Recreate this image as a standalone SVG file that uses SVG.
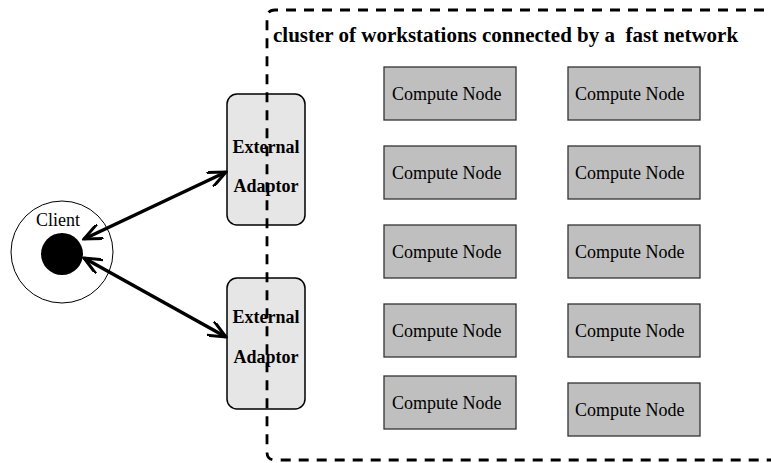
<svg xmlns="http://www.w3.org/2000/svg" width="771" height="463" viewBox="0 0 771 463">
<defs>
<style>
.cn rect{fill:#bfbfbf;stroke:#333;stroke-width:1.3}
.cn text{font-family:"Liberation Serif",serif;font-size:18px;fill:#000}
.ea rect{fill:#e6e6e6;stroke:#000;stroke-width:1.5}
.ea text{font-family:"Liberation Serif",serif;font-size:18px;font-weight:bold;fill:#000;text-anchor:middle}
.conn line{stroke:#000;stroke-width:3.5;fill:none}
</style>
<marker id="ah" viewBox="0 0 20 16" refX="18" refY="8" markerWidth="20" markerHeight="16" markerUnits="userSpaceOnUse" orient="auto-start-reverse">
<path d="M0,0 L18,8 L0,16" fill="none" stroke="#000" stroke-width="3"/>
</marker>
</defs>
<rect width="771" height="463" fill="#fff"/>
<g id="client">
<circle cx="62" cy="252" r="51" fill="#fff" stroke="#000" stroke-width="1"/>
<circle cx="62" cy="254" r="21" fill="#000"/>
<text x="58" y="226" font-family="Liberation Serif,serif" font-size="18" text-anchor="middle">Client</text>
</g>
<g id="adaptor1" class="ea">
<rect x="227" y="94" width="78" height="131" rx="10"/>
<text x="266" y="153">External</text>
<text x="266" y="192">Adaptor</text>
</g>
<g id="adaptor2" class="ea">
<rect x="227" y="278" width="78" height="131" rx="10"/>
<text x="266" y="323">External</text>
<text x="266" y="363">Adaptor</text>
</g>
<g id="cluster">
<path d="M800,10 H275 Q267,10 267,18 V452 Q267,460 275,460 H800" fill="none" stroke="#000" stroke-width="2.8" stroke-dasharray="10,8"/>
<text x="273" y="42" font-family="Liberation Serif,serif" font-size="21" font-weight="bold" xml:space="preserve" style="white-space:pre">cluster of workstations connected by a  fast network</text>
</g>
<g id="cn1" class="cn"><rect x="384" y="67" width="132" height="53"/><text x="392" y="100">Compute Node</text></g>
<g id="cn2" class="cn"><rect x="568" y="67" width="132" height="53"/><text x="575" y="100">Compute Node</text></g>
<g id="cn3" class="cn"><rect x="384" y="146" width="132" height="53"/><text x="392" y="179">Compute Node</text></g>
<g id="cn4" class="cn"><rect x="568" y="146" width="132" height="53"/><text x="575" y="179">Compute Node</text></g>
<g id="cn5" class="cn"><rect x="384" y="225" width="132" height="53"/><text x="392" y="258">Compute Node</text></g>
<g id="cn6" class="cn"><rect x="568" y="225" width="132" height="53"/><text x="575" y="258">Compute Node</text></g>
<g id="cn7" class="cn"><rect x="384" y="304" width="132" height="53"/><text x="392" y="337">Compute Node</text></g>
<g id="cn8" class="cn"><rect x="568" y="304" width="132" height="53"/><text x="575" y="337">Compute Node</text></g>
<g id="cn9" class="cn"><rect x="384" y="376" width="132" height="53"/><text x="392" y="409">Compute Node</text></g>
<g id="cn10" class="cn"><rect x="568" y="383" width="132" height="53"/><text x="575" y="416">Compute Node</text></g>
<g id="connectors" class="conn">
<line x1="84" y1="239" x2="226" y2="172" marker-start="url(#ah)" marker-end="url(#ah)"/>
<line x1="84" y1="258" x2="226" y2="337" marker-start="url(#ah)" marker-end="url(#ah)"/>
</g>
</svg>
